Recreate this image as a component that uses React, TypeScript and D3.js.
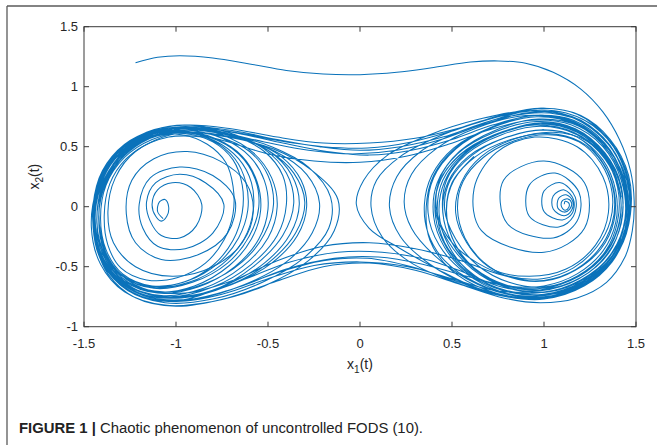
import React from "react";
import * as d3 from "d3";

type P = [number, number];

const xTicks = [-1.5, -1, -0.5, 0, 0.5, 1, 1.5];
const yTicks = [-1, -0.5, 0, 0.5, 1, 1.5];
const xTickLabels = ["-1.5", "-1", "-0.5", "0", "0.5", "1", "1.5"];
const yTickLabels = ["-1", "-0.5", "0", "0.5", "1", "1.5"];

const transient: P[] = [
  [-1.22, 1.2], [-1.1, 1.245], [-0.98, 1.258], [-0.8, 1.24], [-0.6, 1.19], [-0.4, 1.135], [-0.2, 1.105], [0.0, 1.1],
  [0.2, 1.12], [0.4, 1.16], [0.6, 1.205], [0.75, 1.215], [0.9, 1.195], [1.05, 1.12], [1.2, 0.98], [1.32, 0.79],
  [1.41, 0.56], [1.47, 0.3], [1.49, 0.05], [1.48, -0.2], [1.44, -0.42], [1.34, -0.63], [1.18, -0.76], [0.98, -0.8],
  [0.78, -0.76], [0.55, -0.65], [0.3, -0.53], [0.05, -0.47], [-0.2, -0.5], [-0.45, -0.62], [-0.72, -0.76], [-1.0, -0.83],
  [-1.22, -0.76], [-1.37, -0.56], [-1.44, -0.28], [-1.45, 0.02], [-1.4, 0.3], [-1.28, 0.52], [-1.12, 0.64],
];

const leftLoopsA: P[] = [
  [-0.95, 0.68], [-0.72, 0.62], [-0.52, 0.48], [-0.4, 0.28], [-0.36, 0.03], [-0.42, -0.24], [-0.58, -0.5], [-0.8, -0.7], [-1.04, -0.79], [-1.26, -0.7], [-1.4, -0.47], [-1.45, -0.17], [-1.42, 0.14], [-1.32, 0.42], [-1.15, 0.6],
  [-0.95, 0.64], [-0.75, 0.57], [-0.6, 0.42], [-0.52, 0.22], [-0.5, -0.02], [-0.55, -0.27], [-0.68, -0.5], [-0.88, -0.67], [-1.1, -0.72], [-1.28, -0.62], [-1.39, -0.4], [-1.43, -0.12], [-1.4, 0.17], [-1.3, 0.42], [-1.14, 0.58],
  [-0.96, 0.62], [-0.8, 0.55], [-0.68, 0.4], [-0.62, 0.2], [-0.61, -0.03], [-0.66, -0.26], [-0.77, -0.47], [-0.94, -0.62], [-1.13, -0.66], [-1.29, -0.56], [-1.38, -0.36], [-1.41, -0.1], [-1.38, 0.18], [-1.28, 0.41], [-1.13, 0.56],
  [-0.95, 0.62], [-0.7, 0.58], [-0.46, 0.46], [-0.29, 0.27], [-0.22, 0.03], [-0.26, -0.22], [-0.4, -0.46], [-0.63, -0.65], [-0.9, -0.77], [-1.14, -0.77], [-1.32, -0.62], [-1.42, -0.38], [-1.45, -0.08], [-1.41, 0.22], [-1.29, 0.47], [-1.12, 0.62],
];

const crossLR1: P[] = [
  [-0.92, 0.67], [-0.68, 0.63], [-0.45, 0.56], [-0.22, 0.5], [0.0, 0.47], [0.22, 0.5], [0.45, 0.58], [0.68, 0.7], [0.92, 0.8], [1.12, 0.78],
  [1.3, 0.64], [1.42, 0.4], [1.47, 0.1], [1.45, -0.2], [1.37, -0.46], [1.22, -0.66], [1.0, -0.77], [0.76, -0.74], [0.5, -0.62], [0.27, -0.46],
  [0.12, -0.25], [0.06, 0.0],
];

const rightLoopsA: P[] = [
  [0.09, 0.22], [0.22, 0.42], [0.45, 0.6], [0.72, 0.74], [0.97, 0.8], [1.2, 0.72], [1.37, 0.48], [1.45, 0.17], [1.45, -0.15], [1.37, -0.44], [1.21, -0.65], [1.0, -0.75], [0.77, -0.71], [0.57, -0.55], [0.43, -0.32], [0.37, -0.05],
  [0.4, 0.24], [0.52, 0.48], [0.72, 0.66], [0.96, 0.75], [1.18, 0.68], [1.35, 0.46], [1.44, 0.16], [1.44, -0.14], [1.36, -0.41], [1.2, -0.61], [1.0, -0.71], [0.79, -0.67], [0.61, -0.52], [0.48, -0.29], [0.41, -0.03],
  [0.44, 0.23], [0.56, 0.45], [0.76, 0.61], [0.98, 0.69], [1.18, 0.62], [1.33, 0.42], [1.41, 0.15], [1.41, -0.12], [1.34, -0.37], [1.19, -0.57], [1.0, -0.67], [0.81, -0.63], [0.64, -0.49], [0.52, -0.27], [0.46, -0.02],
  [0.49, 0.22], [0.61, 0.43], [0.8, 0.58], [1.0, 0.64], [1.18, 0.58], [1.31, 0.39], [1.38, 0.14], [1.38, -0.12], [1.31, -0.35], [1.17, -0.53], [1.0, -0.62], [0.82, -0.59], [0.67, -0.46], [0.57, -0.26], [0.53, -0.02],
  [0.56, 0.21], [0.67, 0.41], [0.84, 0.55], [1.02, 0.6], [1.19, 0.54], [1.31, 0.36], [1.37, 0.12], [1.36, -0.12], [1.29, -0.33], [1.16, -0.51], [0.99, -0.6], [0.81, -0.58], [0.64, -0.47], [0.5, -0.3], [0.42, -0.06],
  [0.43, 0.22], [0.54, 0.46], [0.74, 0.64], [0.97, 0.73], [1.19, 0.67], [1.36, 0.46], [1.45, 0.15], [1.45, -0.17], [1.37, -0.45], [1.21, -0.66], [1.0, -0.77],
];

const crossRL1: P[] = [
  [0.76, -0.74], [0.52, -0.62], [0.28, -0.5], [0.04, -0.43], [-0.2, -0.45], [-0.45, -0.55], [-0.7, -0.69], [-0.95, -0.78],
  [-1.18, -0.74], [-1.35, -0.56], [-1.43, -0.28], [-1.44, 0.02], [-1.39, 0.3], [-1.27, 0.52], [-1.1, 0.64],
];

const leftLoopsB: P[] = [
  [-0.93, 0.66], [-0.75, 0.6], [-0.58, 0.45], [-0.48, 0.24], [-0.45, 0.0], [-0.5, -0.26], [-0.64, -0.5], [-0.85, -0.68], [-1.08, -0.74], [-1.28, -0.64], [-1.4, -0.42], [-1.44, -0.13], [-1.41, 0.16], [-1.31, 0.41], [-1.15, 0.58],
  [-0.97, 0.6], [-0.83, 0.52], [-0.73, 0.37], [-0.69, 0.17], [-0.69, -0.06], [-0.74, -0.28], [-0.84, -0.47], [-0.99, -0.59], [-1.16, -0.61], [-1.3, -0.51], [-1.37, -0.32], [-1.39, -0.07], [-1.36, 0.19], [-1.27, 0.4], [-1.12, 0.55],
  [-0.95, 0.62], [-0.72, 0.58], [-0.47, 0.48], [-0.26, 0.3], [-0.12, 0.06], [-0.14, -0.2], [-0.28, -0.45], [-0.52, -0.66], [-0.8, -0.79], [-1.06, -0.82], [-1.28, -0.71], [-1.41, -0.48], [-1.46, -0.17], [-1.43, 0.15], [-1.33, 0.43], [-1.16, 0.62],
];

const crossLR2: P[] = [
  [-0.95, 0.68], [-0.7, 0.65], [-0.45, 0.58], [-0.2, 0.53], [0.05, 0.53], [0.3, 0.57], [0.55, 0.66], [0.78, 0.76], [1.0, 0.82], [1.2, 0.76],
  [1.36, 0.56], [1.46, 0.26], [1.47, -0.06], [1.41, -0.36], [1.27, -0.6], [1.06, -0.75], [0.84, -0.76], [0.6, -0.66], [0.38, -0.48], [0.22, -0.25], [0.16, 0.0],
];

const rightLoopsB: P[] = [
  [0.2, 0.25], [0.33, 0.46], [0.55, 0.63], [0.8, 0.75], [1.03, 0.78], [1.24, 0.68], [1.39, 0.44], [1.45, 0.13], [1.43, -0.18], [1.34, -0.45], [1.17, -0.64], [0.96, -0.72], [0.75, -0.68], [0.58, -0.52], [0.46, -0.3], [0.42, -0.04],
  [0.45, 0.22], [0.57, 0.45], [0.77, 0.62], [0.99, 0.7], [1.19, 0.63], [1.34, 0.42], [1.42, 0.14], [1.42, -0.14], [1.34, -0.4], [1.19, -0.6], [0.98, -0.7], [0.77, -0.67], [0.57, -0.55], [0.36, -0.44], [0.12, -0.38], [-0.12, -0.38],
  [-0.38, -0.46], [-0.62, -0.6], [-0.88, -0.73], [-1.12, -0.74], [-1.31, -0.6], [-1.42, -0.36], [-1.45, -0.06], [-1.41, 0.24], [-1.3, 0.48], [-1.13, 0.63],
];

const leftLoopsC: P[] = [
  [-0.94, 0.66], [-0.7, 0.6], [-0.5, 0.47], [-0.36, 0.28], [-0.3, 0.04], [-0.35, -0.22], [-0.5, -0.47], [-0.72, -0.66], [-0.97, -0.76], [-1.2, -0.72], [-1.36, -0.54], [-1.44, -0.26], [-1.44, 0.05], [-1.37, 0.33], [-1.22, 0.55],
  [-1.02, 0.63], [-0.82, 0.58], [-0.66, 0.44], [-0.57, 0.23], [-0.55, 0.0], [-0.6, -0.24], [-0.72, -0.47], [-0.91, -0.63], [-1.12, -0.68], [-1.29, -0.58], [-1.39, -0.37], [-1.42, -0.1], [-1.39, 0.18], [-1.29, 0.42], [-1.14, 0.57],
  [-0.96, 0.61], [-0.8, 0.54], [-0.69, 0.39], [-0.64, 0.18], [-0.64, -0.05], [-0.69, -0.28], [-0.8, -0.49], [-0.96, -0.63], [-1.14, -0.66], [-1.3, -0.56], [-1.39, -0.35], [-1.42, -0.08], [-1.38, 0.2], [-1.27, 0.44], [-1.1, 0.6],
];

const crossLR3: P[] = [
  [-0.9, 0.66], [-0.66, 0.61], [-0.42, 0.53], [-0.18, 0.46], [0.05, 0.43], [0.28, 0.47], [0.5, 0.56], [0.72, 0.68], [0.95, 0.76], [1.16, 0.72],
  [1.33, 0.53], [1.43, 0.25], [1.46, -0.06], [1.41, -0.35], [1.28, -0.58], [1.08, -0.72], [0.86, -0.74], [0.64, -0.64], [0.46, -0.45], [0.37, -0.22], [0.35, 0.02],
];

const rightLoopsC: P[] = [
  [0.39, 0.26], [0.51, 0.49], [0.71, 0.66], [0.94, 0.76], [1.16, 0.71], [1.34, 0.5], [1.44, 0.2], [1.45, -0.11], [1.38, -0.4], [1.23, -0.62], [1.02, -0.73], [0.8, -0.7], [0.6, -0.56], [0.47, -0.34], [0.41, -0.08],
  [0.43, 0.2], [0.54, 0.43], [0.73, 0.6], [0.95, 0.68], [1.16, 0.62], [1.32, 0.43], [1.4, 0.16], [1.4, -0.12], [1.33, -0.38], [1.18, -0.58], [0.99, -0.68], [0.79, -0.65], [0.62, -0.51], [0.5, -0.3], [0.45, -0.05],
  [0.47, 0.22], [0.58, 0.44], [0.77, 0.6], [0.98, 0.67], [1.18, 0.6], [1.33, 0.4], [1.41, 0.13], [1.41, -0.14], [1.33, -0.39], [1.17, -0.59], [0.96, -0.7], [0.74, -0.7], [0.5, -0.6], [0.26, -0.5], [0.0, -0.46],
  [-0.25, -0.49], [-0.5, -0.6], [-0.75, -0.73], [-1.0, -0.79], [-1.22, -0.73], [-1.37, -0.54], [-1.44, -0.26], [-1.44, 0.05], [-1.38, 0.32], [-1.24, 0.54], [-1.06, 0.64],
];

const leftLoopsD: P[] = [
  [-0.85, 0.64], [-0.62, 0.56], [-0.43, 0.42], [-0.32, 0.22], [-0.29, 0.0], [-0.34, -0.24], [-0.48, -0.47], [-0.7, -0.65], [-0.96, -0.75], [-1.19, -0.71], [-1.35, -0.52], [-1.43, -0.24], [-1.43, 0.06], [-1.36, 0.34], [-1.21, 0.55],
  [-1.0, 0.64], [-0.78, 0.59], [-0.6, 0.46], [-0.5, 0.26], [-0.47, 0.02], [-0.52, -0.23], [-0.64, -0.46], [-0.84, -0.64], [-1.06, -0.71], [-1.26, -0.63], [-1.38, -0.42], [-1.43, -0.14], [-1.4, 0.15], [-1.31, 0.4], [-1.15, 0.57],
  [-0.97, 0.62], [-0.79, 0.55], [-0.66, 0.4], [-0.59, 0.2], [-0.58, -0.03], [-0.63, -0.27], [-0.75, -0.48], [-0.93, -0.63], [-1.13, -0.67], [-1.3, -0.57], [-1.39, -0.36], [-1.42, -0.1], [-1.39, 0.18], [-1.29, 0.41], [-1.14, 0.57],
  [-0.95, 0.64], [-0.72, 0.6], [-0.48, 0.5], [-0.28, 0.33], [-0.16, 0.08], [-0.17, -0.18], [-0.3, -0.42], [-0.53, -0.63], [-0.8, -0.77], [-1.06, -0.8], [-1.27, -0.69], [-1.4, -0.46], [-1.45, -0.16], [-1.42, 0.16], [-1.32, 0.44], [-1.15, 0.62],
];

const crossLR4: P[] = [
  [-0.93, 0.66], [-0.68, 0.62], [-0.44, 0.55], [-0.2, 0.5], [0.04, 0.49], [0.28, 0.54], [0.52, 0.64], [0.76, 0.76], [0.98, 0.82], [1.18, 0.77],
  [1.34, 0.58], [1.44, 0.3], [1.47, -0.02], [1.42, -0.32], [1.29, -0.57], [1.09, -0.73], [0.87, -0.76], [0.64, -0.68], [0.42, -0.52], [0.22, -0.35],
  [0.05, -0.18], [-0.02, 0.02],
];

const rightLoopsD: P[] = [
  [0.02, 0.22], [0.15, 0.43], [0.38, 0.6], [0.65, 0.73], [0.92, 0.8], [1.16, 0.74], [1.35, 0.52], [1.45, 0.22], [1.46, -0.1], [1.39, -0.4], [1.24, -0.63], [1.03, -0.75], [0.8, -0.73], [0.58, -0.6], [0.4, -0.4], [0.28, -0.18], [0.24, 0.04],
  [0.28, 0.27], [0.42, 0.49], [0.64, 0.66], [0.9, 0.76], [1.14, 0.71], [1.33, 0.5], [1.43, 0.2], [1.44, -0.12], [1.37, -0.41], [1.21, -0.62], [1.0, -0.73], [0.78, -0.7], [0.59, -0.56], [0.46, -0.34], [0.4, -0.08],
  [0.42, 0.2], [0.53, 0.44], [0.73, 0.62], [0.96, 0.71], [1.17, 0.65], [1.33, 0.45], [1.42, 0.17], [1.42, -0.12], [1.35, -0.39], [1.2, -0.59], [1.0, -0.69], [0.8, -0.66], [0.62, -0.52], [0.5, -0.3], [0.45, -0.04],
  [0.48, 0.21], [0.59, 0.42], [0.78, 0.57], [0.99, 0.64], [1.18, 0.58], [1.32, 0.39], [1.39, 0.13], [1.39, -0.13], [1.32, -0.37], [1.18, -0.56], [1.0, -0.66], [0.8, -0.66], [0.58, -0.58], [0.34, -0.48], [0.1, -0.42],
  [-0.14, -0.43], [-0.4, -0.52], [-0.66, -0.67], [-0.92, -0.77], [-1.15, -0.75], [-1.33, -0.58], [-1.43, -0.32], [-1.45, -0.02], [-1.4, 0.28], [-1.28, 0.51], [-1.1, 0.64],
];

const leftLoopsE: P[] = [
  [-0.9, 0.66], [-0.7, 0.6], [-0.52, 0.46], [-0.42, 0.26], [-0.4, 0.02], [-0.45, -0.24], [-0.59, -0.48], [-0.8, -0.67], [-1.03, -0.75], [-1.24, -0.68], [-1.38, -0.47], [-1.44, -0.18], [-1.42, 0.13], [-1.33, 0.4], [-1.17, 0.58],
  [-0.98, 0.63], [-0.79, 0.57], [-0.64, 0.42], [-0.56, 0.21], [-0.54, -0.03], [-0.59, -0.27], [-0.71, -0.49], [-0.9, -0.66], [-1.11, -0.71], [-1.29, -0.61], [-1.4, -0.39], [-1.43, -0.11], [-1.4, 0.18], [-1.3, 0.43], [-1.13, 0.59],
  [-0.93, 0.64], [-0.7, 0.59], [-0.5, 0.47], [-0.37, 0.26], [-0.33, 0.02], [-0.38, -0.23], [-0.52, -0.47], [-0.74, -0.66], [-0.99, -0.76], [-1.22, -0.71], [-1.37, -0.52], [-1.44, -0.24], [-1.44, 0.07], [-1.37, 0.35], [-1.21, 0.57], [-1.0, 0.66],
];

const crossLR5: P[] = [
  [-0.76, 0.62], [-0.52, 0.54], [-0.28, 0.47], [-0.04, 0.44], [0.2, 0.47], [0.44, 0.56], [0.66, 0.68], [0.9, 0.78], [1.12, 0.78], [1.31, 0.62],
  [1.43, 0.35], [1.47, 0.04], [1.43, -0.28], [1.31, -0.54], [1.12, -0.71], [0.9, -0.76], [0.68, -0.69], [0.49, -0.52], [0.38, -0.28], [0.36, 0.0],
];

const rightLoopsE: P[] = [
  [0.4, 0.26], [0.52, 0.49], [0.72, 0.66], [0.96, 0.75], [1.18, 0.69], [1.35, 0.48], [1.44, 0.18], [1.44, -0.13], [1.37, -0.41], [1.22, -0.62], [1.01, -0.73], [0.79, -0.7], [0.6, -0.55], [0.48, -0.32], [0.43, -0.06],
  [0.46, 0.21], [0.57, 0.44], [0.76, 0.61], [0.98, 0.69], [1.18, 0.63], [1.33, 0.43], [1.41, 0.15], [1.41, -0.13], [1.34, -0.38], [1.19, -0.58], [0.99, -0.68], [0.79, -0.65], [0.62, -0.51], [0.51, -0.29], [0.47, -0.03],
  [0.51, 0.22], [0.63, 0.42], [0.82, 0.56], [1.02, 0.61], [1.2, 0.54], [1.32, 0.36], [1.38, 0.11],
];

const crossTail: P[] = [
  [1.37, -0.14], [1.29, -0.37], [1.14, -0.55], [0.95, -0.62], [0.75, -0.56], [0.55, -0.45], [0.3, -0.35], [0.05, -0.3], [-0.2, -0.33],
  [-0.45, -0.45], [-0.7, -0.62], [-0.95, -0.72], [-1.18, -0.68], [-1.34, -0.5], [-1.41, -0.22], [-1.41, 0.08], [-1.34, 0.36], [-1.19, 0.56],
  [-0.98, 0.62], [-0.74, 0.55], [-0.5, 0.44], [-0.25, 0.38], [0.0, 0.37], [0.25, 0.42], [0.48, 0.52], [0.7, 0.64], [0.93, 0.72], [1.15, 0.68],
  [1.32, 0.5], [1.42, 0.22], [1.44, -0.1], [1.37, -0.38], [1.22, -0.6], [1.02, -0.71], [0.82, -0.68], [0.64, -0.54], [0.52, -0.32], [0.47, -0.06],
  [0.5, 0.2], [0.62, 0.42],
];

const spiralRight: P[] = [
  [1.11, 0.02], [1.115, 0.045], [1.135, 0.03], [1.135, -0.005], [1.115, -0.03], [1.095, 0.0],
  [1.1, 0.05], [1.13, 0.065], [1.15, 0.03], [1.14, -0.02], [1.11, -0.045], [1.075, -0.01],
  [1.08, 0.07], [1.12, 0.1], [1.155, 0.05], [1.15, -0.03], [1.11, -0.075], [1.05, -0.02],
  [1.05, 0.09], [1.11, 0.14], [1.16, 0.06], [1.155, -0.05], [1.1, -0.11], [1.0, -0.04],
  [1.0, 0.13], [1.09, 0.2], [1.17, 0.08], [1.16, -0.08], [1.08, -0.17], [0.92, -0.08],
  [0.92, 0.18], [1.06, 0.28], [1.19, 0.12], [1.18, -0.12], [1.05, -0.26], [0.8, -0.14],
  [0.78, 0.22], [1.0, 0.38], [1.22, 0.2], [1.22, -0.18], [1.0, -0.38], [0.66, -0.2],
  [0.62, 0.15], [0.74, 0.45], [0.95, 0.58], [1.18, 0.5], [1.32, 0.25], [1.35, -0.05], [1.28, -0.32], [1.12, -0.52], [0.92, -0.58], [0.72, -0.52],
  [0.58, -0.3], [0.52, -0.05], [0.55, 0.2], [0.66, 0.42], [0.85, 0.57], [1.05, 0.62], [1.23, 0.55], [1.36, 0.35], [1.42, 0.08],
];

const leftInner: P[] = [
  [-1.07, -0.1], [-1.1, -0.04], [-1.09, 0.04], [-1.06, 0.06], [-1.04, 0.0], [-1.05, -0.08], [-1.08, -0.12], [-1.11, -0.08],
  [-1.13, 0.02], [-1.1, 0.14], [-1.02, 0.2], [-0.92, 0.16], [-0.86, 0.02], [-0.89, -0.16], [-0.98, -0.26], [-1.08, -0.24], [-1.14, -0.12],
  [-1.16, 0.04], [-1.11, 0.2], [-0.98, 0.27], [-0.84, 0.2], [-0.74, 0.02], [-0.8, -0.22], [-0.95, -0.35], [-1.1, -0.33], [-1.18, -0.18],
  [-1.2, 0.02], [-1.14, 0.24], [-0.98, 0.33], [-0.8, 0.26], [-0.68, 0.06], [-0.72, -0.22], [-0.88, -0.4], [-1.08, -0.44], [-1.22, -0.3],
  [-1.27, -0.06], [-1.24, 0.22], [-1.12, 0.4], [-0.94, 0.46], [-0.76, 0.38], [-0.62, 0.2], [-0.58, -0.04], [-0.64, -0.3], [-0.8, -0.5],
  [-1.02, -0.58], [-1.22, -0.5], [-1.34, -0.3], [-1.37, -0.04], [-1.33, 0.24], [-1.22, 0.46], [-1.04, 0.58], [-0.84, 0.58],
];

const mainTrajectory: P[] = [
  ...transient, ...leftLoopsA, ...crossLR1, ...rightLoopsA, ...crossRL1, ...leftLoopsB, ...crossLR2, ...rightLoopsB,
  ...leftLoopsC, ...crossLR3, ...rightLoopsC, ...leftLoopsD, ...crossLR4, ...rightLoopsD, ...leftLoopsE, ...crossLR5,
  ...rightLoopsE, ...crossTail,
];

const W = 657;
const H = 445;
const M = { left: 84, right: 636, top: 26.7, bottom: 326.7 };

export default function App() {
  const x = d3.scaleLinear().domain([-1.5, 1.5]).range([M.left, M.right]);
  const y = d3.scaleLinear().domain([-1, 1.5]).range([M.bottom, M.top]);
  const line = d3
    .line<P>()
    .x((d) => x(d[0]))
    .y((d) => y(d[1]))
    .curve(d3.curveCatmullRom.alpha(0.5));
  const series = [mainTrajectory, spiralRight, leftInner];
  const axisColor = "#3a3a3a";
  const textColor = "#262626";
  const font = "'Liberation Sans', Arial, Helvetica, sans-serif";
  const tickLen = 5;
  return (
    <svg
      width={W}
      height={H}
      viewBox={`0 0 ${W} ${H}`}
      style={{ position: "absolute", left: 0, top: 0, background: "#fff" }}
    >
      <rect x={0} y={0} width={W} height={H} fill="#fff" />
      <line x1={7} y1={6} x2={W} y2={6} stroke="#5a5a5a" strokeWidth={1.3} />
      <line x1={7} y1={6} x2={7} y2={H} stroke="#5a5a5a" strokeWidth={1.3} />

      <defs>
        <clipPath id="plotclip">
          <rect x={M.left} y={M.top} width={M.right - M.left} height={M.bottom - M.top} />
        </clipPath>
      </defs>
      <g clipPath="url(#plotclip)">
        {series.map((s, i) => (
          <path key={i} d={line(s) || ""} fill="none" stroke="#0A72BA" strokeWidth={1.05} strokeLinejoin="round" />
        ))}
      </g>

      <rect
        x={M.left}
        y={M.top}
        width={M.right - M.left}
        height={M.bottom - M.top}
        fill="none"
        stroke={axisColor}
        strokeWidth={1}
      />
      {xTicks.map((t, i) => (
        <g key={"xt" + i}>
          <line x1={x(t)} x2={x(t)} y1={M.bottom} y2={M.bottom - tickLen} stroke={axisColor} />
          <line x1={x(t)} x2={x(t)} y1={M.top} y2={M.top + tickLen} stroke={axisColor} />
          <text x={x(t)} y={348} textAnchor="middle" fontFamily={font} fontSize={13} fill={textColor}>
            {xTickLabels[i]}
          </text>
        </g>
      ))}
      {yTicks.map((t, i) => (
        <g key={"yt" + i}>
          <line x1={M.left} x2={M.left + tickLen} y1={y(t)} y2={y(t)} stroke={axisColor} />
          <line x1={M.right} x2={M.right - tickLen} y1={y(t)} y2={y(t)} stroke={axisColor} />
          <text x={78} y={y(t) + 4.5} textAnchor="end" fontFamily={font} fontSize={13} fill={textColor}>
            {yTickLabels[i]}
          </text>
        </g>
      ))}

      <text x={360} y={369} textAnchor="middle" fontFamily={font} fontSize={14} fill={textColor}>
        x<tspan fontSize={10} dy={4}>1</tspan>
        <tspan dy={-4}>(t)</tspan>
      </text>
      <text
        transform={`translate(39, ${(M.top + M.bottom) / 2}) rotate(-90)`}
        textAnchor="middle"
        fontFamily={font}
        fontSize={14}
        fill={textColor}
      >
        x<tspan fontSize={10} dy={4}>2</tspan>
        <tspan dy={-4}>(t)</tspan>
      </text>

      <text x={19} y={433} fontFamily={font} fontSize={15.5} fill="#222" textLength={404} lengthAdjust="spacingAndGlyphs">
        <tspan fontWeight="bold">FIGURE 1 | </tspan>
        <tspan>Chaotic phenomenon of uncontrolled FODS (10).</tspan>
      </text>
    </svg>
  );
}
